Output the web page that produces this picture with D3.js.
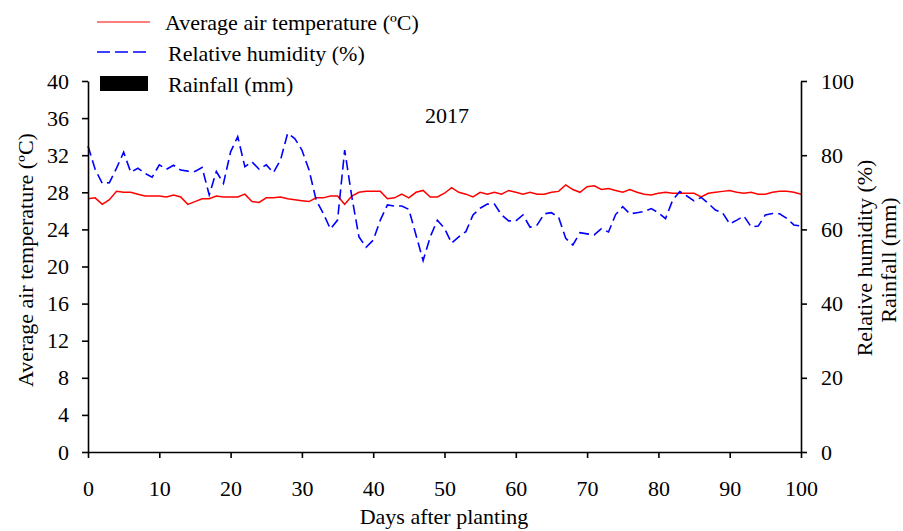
<!DOCTYPE html>
<html>
<head>
<meta charset="utf-8">
<script src="https://d3js.org/d3.v7.min.js"></script>
<style>
body { margin:0; background:#fff; }
svg text { font-family: "Liberation Serif", "Times New Roman", serif; fill:#000; }
.axis path, .axis line { stroke:#000; stroke-width:1.6; }
</style>
</head>
<body>
<svg id="chart" width="903" height="531"></svg>
<script>
// days after planting 0..100
var days = d3.range(0, 101);
var temperature = [27.3,27.4,26.7,27.2,28.1,28.0,28.0,27.8,27.6,27.6,
  27.6,27.5,27.7,27.5,26.7,27.0,27.3,27.3,27.6,27.5,
  27.5,27.5,27.8,27.0,26.9,27.4,27.4,27.5,27.3,27.2,
  27.1,27.0,27.4,27.4,27.6,27.6,26.7,27.6,28.0,28.1,
  28.1,28.1,27.3,27.4,27.8,27.4,28.0,28.2,27.5,27.5,
  27.9,28.5,28.0,27.8,27.5,28.0,27.8,28.0,27.8,28.2,
  28.0,27.8,28.0,27.8,27.8,28.0,28.1,28.8,28.3,28.0,
  28.6,28.7,28.3,28.4,28.2,28.0,28.3,28.0,27.8,27.7,
  27.9,28.0,27.9,27.9,27.9,27.9,27.5,27.9,28.0,28.1,
  28.2,28.0,27.9,28.0,27.8,27.8,28.0,28.1,28.1,28.0,27.8];
var humidity = [82.5,76.2,72.4,72.6,76.5,80.8,75.4,76.5,75.1,74.1,
  77.4,76.2,77.3,76.0,75.7,75.6,76.7,69.3,75.6,72.4,
  80.9,85.0,76.9,78.2,76.2,77.4,75.3,78.7,85.9,84.5,
  81.4,76.0,67.9,64.3,60.1,62.5,81.4,68.8,58.0,55.2,
  57.1,62.5,66.6,66.3,66.3,65.4,58.5,51.6,58.0,62.5,
  60.3,56.3,58.0,59.4,63.9,65.7,66.8,66.8,63.9,62.3,
  62.3,63.9,60.6,61.2,64.2,64.5,63.3,57.6,55.8,59.1,
  58.8,58.5,60.2,59.3,64.0,66.1,64.2,64.5,64.8,65.6,
  64.5,62.9,67.9,70.2,69.0,67.7,68.6,67.0,65.2,64.5,
  61.5,62.5,63.6,60.7,60.9,63.9,64.3,64.2,63.0,61.2,60.9];
var rainfall = []; // no rainfall recorded in this period
var tempTicks = [0,4,8,12,16,20,24,28,32,36,40];
var rhTicks = [0,20,40,60,80,100];
var dayTicks = [0,10,20,30,40,50,60,70,80,90,100];

var svg = d3.select("#chart");
var m = {left:88, top:81, right:102, bottom:79};
var w = 903 - m.left - m.right, h = 531 - m.top - m.bottom;
var g = svg.append("g").attr("transform", "translate(" + m.left + "," + m.top + ")");

var x = d3.scaleLinear().domain([0, 100]).range([0, w]);
var yT = d3.scaleLinear().domain([0, 40]).range([h, 0]);
var yR = d3.scaleLinear().domain([0, 100]).range([h, 0]);

// rainfall bars (right axis)
g.selectAll(".rain").data(rainfall).enter().append("rect")
  .attr("class", "rain")
  .attr("x", function(d, i) { return x(i) - 2; })
  .attr("width", 4)
  .attr("y", function(d) { return yR(d); })
  .attr("height", function(d) { return h - yR(d); })
  .attr("fill", "#000");

var tLine = d3.line().x(function(d, i) { return x(days[i]); }).y(function(d) { return yT(d); });
var hLine = d3.line().x(function(d, i) { return x(days[i]); }).y(function(d) { return yR(d); });

g.append("path").datum(temperature).attr("d", tLine)
  .attr("fill", "none").attr("stroke", "#ff0000").attr("stroke-width", 1.5);
g.append("path").datum(humidity).attr("d", hLine)
  .attr("fill", "none").attr("stroke", "#0000ff").attr("stroke-width", 1.6)
  .attr("stroke-dasharray", "10,5");

var fs = "22px";
var xa = g.append("g").attr("class", "axis").attr("transform", "translate(0," + h + ")")
  .call(d3.axisBottom(x).tickValues(dayTicks).tickSize(6).tickPadding(22).tickSizeOuter(0));
var la = g.append("g").attr("class", "axis")
  .call(d3.axisLeft(yT).tickValues(tempTicks).tickSize(6).tickPadding(13).tickSizeOuter(0));
var ra = g.append("g").attr("class", "axis").attr("transform", "translate(" + w + ",0)")
  .call(d3.axisRight(yR).tickValues(rhTicks).tickSize(6).tickPadding(14).tickSizeOuter(0));
svg.selectAll(".axis text").style("font-size", fs).style("font-family", "Liberation Serif");
svg.selectAll(".axis .domain").attr("stroke-width", 1.6);

// axis titles
svg.append("text").attr("x", 444).attr("y", 524).attr("text-anchor", "middle")
  .style("font-size", fs).text("Days after planting");
svg.append("text").attr("transform", "translate(33,260) rotate(-90)").attr("text-anchor", "middle")
  .style("font-size", fs).text("Average air temperature (ºC)");
svg.append("text").attr("transform", "translate(872,258) rotate(-90)").attr("text-anchor", "middle")
  .style("font-size", fs).text("Relative humidity (%)");
svg.append("text").attr("transform", "translate(896,260) rotate(-90)").attr("text-anchor", "middle")
  .style("font-size", fs).text("Rainfall (mm)");

svg.append("text").attr("x", 447).attr("y", 123).attr("text-anchor", "middle")
  .style("font-size", fs).text("2017");

// legend
var leg = svg.append("g");
leg.append("line").attr("x1", 97).attr("x2", 150).attr("y1", 22).attr("y2", 22)
  .attr("stroke", "#ff0000").attr("stroke-width", 1.2);
leg.append("text").attr("x", 165).attr("y", 30).style("font-size", fs).text("Average air temperature (ºC)");
leg.append("line").attr("x1", 97).attr("x2", 150).attr("y1", 52).attr("y2", 52)
  .attr("stroke", "#0000ff").attr("stroke-width", 1.4).attr("stroke-dasharray", "13,5");
leg.append("text").attr("x", 168).attr("y", 61).style("font-size", fs).text("Relative humidity (%)");
leg.append("rect").attr("x", 100).attr("y", 76).attr("width", 48).attr("height", 15).attr("fill", "#000");
leg.append("text").attr("x", 168).attr("y", 92).style("font-size", fs).text("Rainfall (mm)");
</script>
</body>
</html>
